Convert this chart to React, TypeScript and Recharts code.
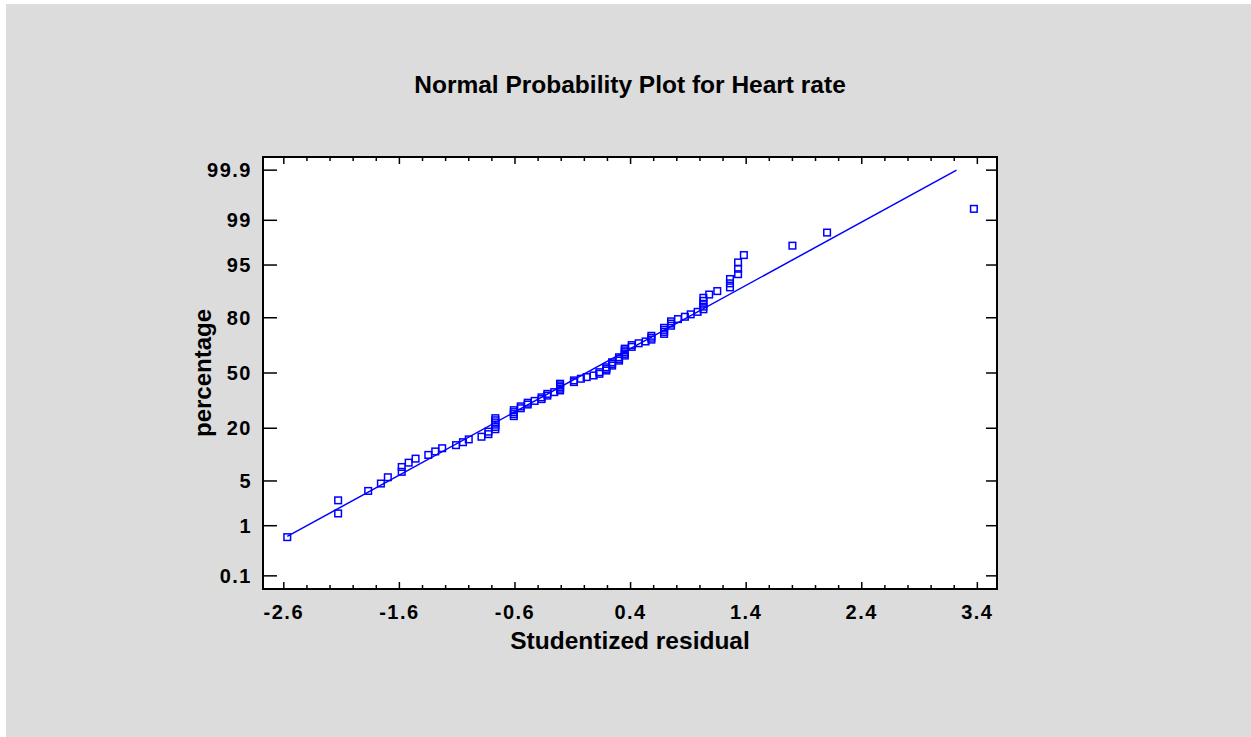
import React from "react"
import {
  ScatterChart,
  Scatter,
  XAxis,
  YAxis,
  CartesianGrid,
  ReferenceArea,
} from "recharts"

// sorted studentized residuals
const residuals = [
  -2.57, -2.13, -2.13, -1.87, -1.76, -1.7, -1.58, -1.58, -1.52, -1.46,
  -1.35, -1.29, -1.23, -1.11, -1.05, -1.0, -0.89, -0.83, -0.83, -0.77,
  -0.77, -0.77, -0.77, -0.77, -0.77, -0.61, -0.61, -0.61, -0.61, -0.55,
  -0.55, -0.49, -0.49, -0.43, -0.37, -0.37, -0.32, -0.32, -0.26, -0.21,
  -0.21, -0.21, -0.21, -0.21, -0.09, -0.09, -0.03, 0.02, 0.08, 0.13,
  0.13, 0.19, 0.19, 0.19, 0.24, 0.24, 0.24, 0.3, 0.3, 0.3,
  0.35, 0.35, 0.35, 0.35, 0.35, 0.41, 0.41, 0.47, 0.53, 0.58,
  0.58, 0.58, 0.69, 0.69, 0.69, 0.69, 0.75, 0.75, 0.75, 0.81,
  0.87, 0.92, 0.98, 1.03, 1.03, 1.03, 1.03, 1.03, 1.08, 1.15,
  1.26, 1.26, 1.26, 1.33, 1.33, 1.33, 1.38, 1.8, 2.1, 3.37,
]

// cumulative percentage of each ranked residual
const percentages = [
  0.62, 1.62, 2.62, 3.62, 4.61, 5.61, 6.61, 7.61, 8.6, 9.6,
  10.6, 11.6, 12.59, 13.59, 14.59, 15.59, 16.58, 17.58, 18.58, 19.58,
  20.57, 21.57, 22.57, 23.57, 24.56, 25.56, 26.56, 27.56, 28.55, 29.55,
  30.55, 31.55, 32.54, 33.54, 34.54, 35.54, 36.53, 37.53, 38.53, 39.53,
  40.52, 41.52, 42.52, 43.52, 44.51, 45.51, 46.51, 47.51, 48.5, 49.5,
  50.5, 51.5, 52.49, 53.49, 54.49, 55.49, 56.48, 57.48, 58.48, 59.48,
  60.47, 61.47, 62.47, 63.47, 64.46, 65.46, 66.46, 67.46, 68.45, 69.45,
  70.45, 71.45, 72.44, 73.44, 74.44, 75.44, 76.43, 77.43, 78.43, 79.43,
  80.42, 81.42, 82.42, 83.42, 84.41, 85.41, 86.41, 87.41, 88.4, 89.4,
  90.4, 91.4, 92.39, 93.39, 94.39, 95.39, 96.38, 97.38, 98.38, 99.38,
]

// fitted normal line
const fitX = [-2.57, 3.22]
const fitPct = [0.64, 99.9]

const xMajorTicks = [-2.6, -1.6, -0.6, 0.4, 1.4, 2.4, 3.4]
const xMinorTicks = [
  -2.4, -2.2, -2.0, -1.8, -1.4, -1.2, -1.0, -0.8, -0.4, -0.2, 0.0, 0.2,
  0.6, 0.8, 1.0, 1.2, 1.6, 1.8, 2.0, 2.2, 2.6, 2.8, 3.0, 3.2,
]
const yTickPct = [0.1, 1, 5, 20, 50, 80, 95, 99, 99.9]
const yLimitPct = [0.05, 99.95]
const xDomain = [-2.78, 3.57]

// inverse standard normal CDF (Acklam)
function probit(p: number): number {
  const a = [-39.69683028665376, 220.9460984245205, -275.9285104469687, 138.357751867269, -30.66479806614716, 2.506628277459239]
  const b = [-54.47609879822406, 161.5858368580409, -155.6989798598866, 66.80131188771972, -13.28068155288572]
  const c = [-0.007784894002430293, -0.3223964580411365, -2.400758277161838, -2.549732539343734, 4.374664141464968, 2.938163982698783]
  const d = [0.007784695709041462, 0.3224671290700398, 2.445134137142996, 3.754408661907416]
  const lo = 0.02425
  if (p < lo) {
    const q = Math.sqrt(-2 * Math.log(p))
    return (((((c[0] * q + c[1]) * q + c[2]) * q + c[3]) * q + c[4]) * q + c[5]) /
      ((((d[0] * q + d[1]) * q + d[2]) * q + d[3]) * q + 1)
  }
  if (p > 1 - lo) return -probit(1 - p)
  const q = p - 0.5
  const r = q * q
  return ((((((a[0] * r + a[1]) * r + a[2]) * r + a[3]) * r + a[4]) * r + a[5]) * q) /
    (((((b[0] * r + b[1]) * r + b[2]) * r + b[3]) * r + b[4]) * r + 1)
}

const z = (pct: number) => probit(pct / 100)

const points = residuals.map((r, i) => ({ x: r, y: z(percentages[i]) }))
const fitLine = fitX.map((x, i) => ({ x, y: z(fitPct[i]) }))
const yTicks = yTickPct.map(z)
const yDomain = yLimitPct.map(z)

const W = 1251
const H = 737
const PLOT_LEFT = 263
const PLOT_RIGHT = 997
const PLOT_TOP = 157
const PLOT_BOTTOM = 589
const Y_AXIS_W = 60
const X_AXIS_H = 30

const FONT = "'Liberation Sans', Arial, sans-serif"
const BLUE = "#0000ff"

function XTick(props: any) {
  const { payload } = props
  const cx = payload.coordinate
  const major = xMajorTicks.some((t) => Math.abs(t - payload.value) < 1e-6)
  const len = major ? 7 : 4
  return (
    <g>
      <line x1={cx} x2={cx} y1={PLOT_BOTTOM} y2={PLOT_BOTTOM - len} stroke="#000" strokeWidth={1.5} />
      <line x1={cx} x2={cx} y1={PLOT_TOP} y2={PLOT_TOP + len} stroke="#000" strokeWidth={1.5} />
      {major && (
        <text x={cx} y={PLOT_BOTTOM + 30} textAnchor="middle" fontFamily={FONT} fontWeight="bold" fontSize={20} letterSpacing={1.5} fill="#000">
          {payload.value.toFixed(1)}
        </text>
      )}
    </g>
  )
}

function YTick(props: any) {
  const { payload, index } = props
  const cy = payload.coordinate
  return (
    <g>
      <line x1={PLOT_LEFT} x2={PLOT_LEFT + 14} y1={cy} y2={cy} stroke="#000" strokeWidth={1.5} />
      <line x1={PLOT_RIGHT} x2={PLOT_RIGHT - 11} y1={cy} y2={cy} stroke="#000" strokeWidth={1.5} />
      <text x={PLOT_LEFT - 11} y={cy + 7} textAnchor="end" fontFamily={FONT} fontWeight="bold" fontSize={20} letterSpacing={1.5} fill="#000">
        {String(yTickPct[index])}
      </text>
    </g>
  )
}

function SquareMarker(props: any) {
  const { cx, cy } = props
  return <rect x={cx - 3.3} y={cy - 3.3} width={6.6} height={6.6} fill="none" stroke={BLUE} strokeWidth={1.5} />
}

const NoMarker = () => <g />

export default function App() {
  return (
    <div style={{ position: "relative", width: W, height: H, background: "#fff", overflow: "hidden" }}>
      <style>{"body{margin:0}"}</style>
      <div style={{ position: "absolute", left: 6, top: 4, right: 0, bottom: 0, background: "#dcdcdc" }} />
      <div
        style={{
          position: "absolute", left: PLOT_LEFT - 100, width: PLOT_RIGHT - PLOT_LEFT + 200, top: 71, lineHeight: "28px",
          textAlign: "center", fontFamily: FONT, fontWeight: "bold", fontSize: 24.5, color: "#000",
        }}
      >
        Normal Probability Plot for Heart rate
      </div>
      <div
        style={{
          position: "absolute", left: PLOT_LEFT, width: PLOT_RIGHT - PLOT_LEFT, top: 627, lineHeight: "28px",
          textAlign: "center", fontFamily: FONT, fontWeight: "bold", fontSize: 24.5, color: "#000",
        }}
      >
        Studentized residual
      </div>
      <div
        style={{
          position: "absolute", left: 203 - 150, top: (PLOT_TOP + PLOT_BOTTOM) / 2 - 14, width: 300, lineHeight: "28px",
          textAlign: "center", fontFamily: FONT, fontWeight: "bold", fontSize: 24, color: "#000",
          transform: "rotate(-90deg)",
        }}
      >
        percentage
      </div>
      <div style={{ position: "absolute", left: 0, top: 0 }}>
        <ScatterChart
          width={W}
          height={H}
          margin={{
            top: PLOT_TOP,
            right: W - PLOT_RIGHT,
            bottom: H - PLOT_BOTTOM - X_AXIS_H,
            left: PLOT_LEFT - Y_AXIS_W,
          }}
        >
          <CartesianGrid horizontal={false} vertical={false} fill="#fff" fillOpacity={1} />
          <XAxis
            type="number"
            dataKey="x"
            domain={xDomain}
            allowDataOverflow
            ticks={[...xMajorTicks, ...xMinorTicks].sort((a, b) => a - b)}
            interval={0}
            height={X_AXIS_H}
            axisLine={false}
            tickLine={false}
            tick={<XTick />}
          />
          <YAxis
            type="number"
            dataKey="y"
            domain={yDomain}
            allowDataOverflow
            ticks={yTicks}
            interval={0}
            width={Y_AXIS_W}
            axisLine={false}
            tickLine={false}
            tick={<YTick />}
          />
          <Scatter
            data={fitLine}
            line={{ stroke: BLUE, strokeWidth: 1.5 }}
            shape={NoMarker}
            isAnimationActive={false}
          />
          <Scatter data={points} shape={SquareMarker} isAnimationActive={false} />
          <ReferenceArea
            x1={xDomain[0]}
            x2={xDomain[1]}
            y1={yDomain[0]}
            y2={yDomain[1]}
            fill="none"
            stroke="#000"
            strokeWidth={2}
          />
        </ScatterChart>
      </div>
    </div>
  )
}
